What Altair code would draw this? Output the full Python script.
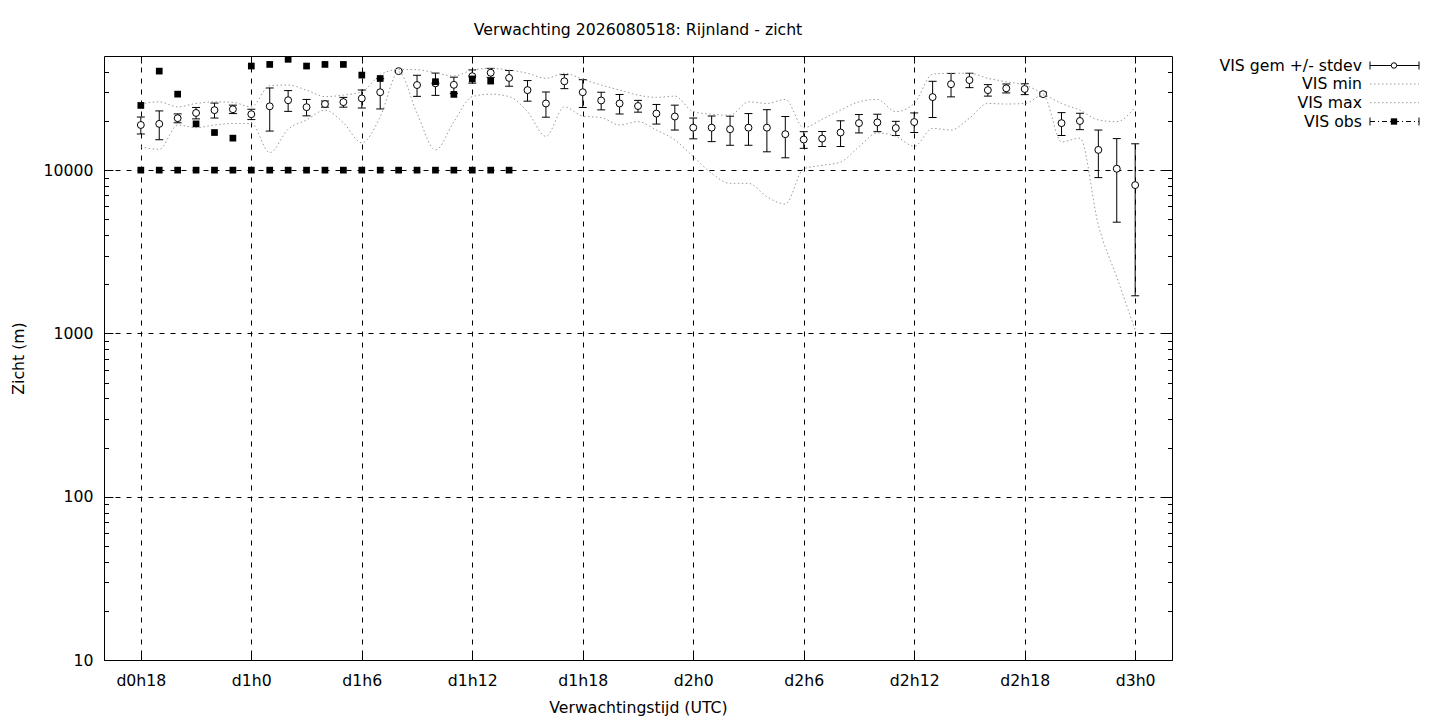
import altair as alt
import pandas as pd

# ---------------- data ----------------
hours = list(range(18, 73))

vis_mean = [18900, 19200, 20800, 22400, 23300, 23600, 22000, 24600, 26800, 24300,
            25400, 26100, 27500, 30000, 40400, 33200, 34000, 33300, 37600, 39500,
            36700, 30900, 25600, 35000, 30000, 26700, 25600, 24700, 22200, 21300,
            18200, 18200, 17800, 18200, 18200, 16600, 15400, 15600, 17000, 19400,
            19600, 18100, 19700, 28000, 33600, 35600, 30900, 31700, 31400, 29200,
            19400, 20000, 13300, 10200, 8100]

vis_sd = [2250, 3850, 1300, 1800, 2450, 1400, 1600, 7250, 3900, 2800,
          1100, 1800, 3500, 6300, 450, 4900, 5300, 3800, 3500, 2500,
          4050, 4450, 4500, 3450, 5800, 3300, 3500, 2050, 3050, 3700,
          2650, 3250, 3600, 4000, 5250, 4700, 1800, 1650, 3050, 2500,
          2400, 1800, 2700, 7000, 5500, 3600, 2500, 2000, 2400, 800,
          3100, 2300, 4300, 5400, 6400]

vis_min = [13900, 13400, 18900, 18200, 18900, 19300, 19300, 12800, 17800, 20300,
           23300, 19500, 14700, 21200, 40000, 22300, 13300, 19800, 28200, 29200,
           28200, 22800, 16100, 24400, 21400, 21000, 18900, 19800, 17600, 15300,
           12100, 9560, 8300, 8300, 6870, 6200, 10200, 10700, 11200, 13900,
           16900, 16100, 14000, 18000, 17600, 20800, 25600, 25400, 25600, 28800,
           14900, 15700, 4610, 2210, 1050]

vis_max = [25400, 26200, 24400, 25600, 26200, 26000, 24400, 32900, 33200, 30900,
           28200, 28800, 30200, 38200, 41400, 41200, 39500, 37700, 41000, 42000,
           41000, 39200, 36500, 39200, 36000, 33200, 30900, 28800, 27900, 28400,
           22800, 22000, 21700, 26200, 25600, 27100, 18200, 20500, 23300, 26200,
           27100, 22800, 25600, 38700, 39200, 39200, 36500, 34800, 33200, 29400,
           25600, 23300, 20300, 19800, 24400]

obs_hours = list(range(18, 39))
obs_a = [24900, 40400, 29200, 19200, 17000, 15700, 43400, 44400, 47700, 43400,
         44400, 44400, 38200, 36400, None, None, 34800, 29100, 36200, 35100, None]
obs_b = [10000, 10000, 10000, 10000, 10000, 10000, 10000, 10000, 10000, 10000,
         10000, 10000, 10000, 10000, 10000, 10000, 10000, 10000, 10000, 10000, 10000]

x_ticks = [18, 24, 30, 36, 42, 48, 54, 60, 66, 72]
y_major = [10, 100, 1000, 10000]
y_minor = [20, 30, 40, 50, 60, 70, 80, 90,
           200, 300, 400, 500, 600, 700, 800, 900,
           2000, 3000, 4000, 5000, 6000, 7000, 8000, 9000,
           20000, 30000, 40000]

title_text = "Verwachting 2026080518: Rijnland - zicht"
x_title = "Verwachtingstijd (UTC)"
y_title = "Zicht (m)"
legend_labels = ["VIS gem +/- stdev", "VIS min", "VIS max", "VIS obs"]

# ---------------- tables ----------------
df = pd.DataFrame({"h": hours, "mean": vis_mean, "sd": vis_sd,
                   "vmin": vis_min, "vmax": vis_max})
df["lo"] = df["mean"] - df["sd"]
df["hi"] = df["mean"] + df["sd"]

obs_rows = []
for h, a, b in zip(obs_hours, obs_a, obs_b):
    if a is not None:
        obs_rows.append({"h": h, "obs": a})
    if b is not None:
        obs_rows.append({"h": h, "obs": b})
obs_df = pd.DataFrame(obs_rows)

# ---------------- styling ----------------
FONT = "DejaVu Sans"
FS = 15.7
W, H = 1068, 604
GRAY = "#9a9a9a"
DOT = [1.5, 2.5]
GRID_DASH = [5, 6]

xs = alt.Scale(domain=[16, 74], nice=False, zero=False)
ys = alt.Scale(type="log", domain=[10, 50000], nice=False)

label_expr = "'d' + floor(datum.value/24) + 'h' + (datum.value % 24)"
major_test = "indexof([10,100,1000,10000], datum.value) >= 0"
ytick_size = {"condition": {"test": major_test, "value": 9}, "value": 4.5}

TXT = dict(labelFont=FONT, labelFontSize=FS, labelColor="black",
           titleFont=FONT, titleFontSize=FS, titleFontWeight="normal",
           titleColor="black")

base = alt.Chart(df)

# main axes (labels, grid, titles) on the min line layer
min_line = base.mark_line(color=GRAY, strokeWidth=1, strokeDash=DOT,
                          interpolate="monotone").encode(
    x=alt.X("h:Q", scale=xs, axis=alt.Axis(
        orient="bottom", values=x_ticks, labelExpr=label_expr, title=x_title,
        ticks=False, domain=False, grid=True, gridColor="black",
        gridDash=GRID_DASH, gridWidth=1, gridOpacity=1, labelPadding=13,
        labelFlush=False, labelOverlap=False,
        titleX=W / 2, titleY=47, titleBaseline="middle", titleAlign="center",
        **TXT)),
    y=alt.Y("vmin:Q", scale=ys, axis=alt.Axis(
        orient="left", values=y_major, format="d", title=y_title,
        ticks=False, domain=False, grid=True, gridColor="black",
        gridDash=GRID_DASH, gridWidth=1, gridOpacity=1, labelPadding=11,
        labelFlush=False, labelOverlap=False,
        titleX=-86, titleY=H / 2, titleBaseline="middle", titleAlign="center",
        **TXT)),
)

# max line carries the inward ticks of the top border and the right border
max_line = base.mark_line(color=GRAY, strokeWidth=1, strokeDash=DOT,
                          interpolate="monotone").encode(
    x=alt.X("h:Q", scale=xs, axis=alt.Axis(
        orient="bottom", offset=-H, values=x_ticks, labels=False, tickSize=7,
        tickColor="black", tickWidth=1, domain=False, grid=False, title=None)),
    y=alt.Y("vmax:Q", scale=ys, axis=alt.Axis(
        orient="left", offset=-W, values=y_major + y_minor, labels=False,
        tickSize=ytick_size, tickColor="black", tickWidth=1, domain=False,
        grid=False, title=None)),
)

# error bars carry the inward ticks of the bottom border and the left border
err = base.mark_rule(color="black", strokeWidth=1).encode(
    x=alt.X("h:Q", scale=xs, axis=alt.Axis(
        orient="top", offset=-H, values=x_ticks, labels=False, tickSize=7,
        tickColor="black", tickWidth=1, domain=False, grid=False, title=None)),
    y=alt.Y("lo:Q", scale=ys, axis=alt.Axis(
        orient="right", offset=-W, values=y_major + y_minor, labels=False,
        tickSize=ytick_size, tickColor="black", tickWidth=1, domain=False,
        grid=False, title=None)),
    y2="hi:Q",
)

caps = base.transform_fold(["lo", "hi"], as_=["k", "v"]).mark_tick(
    orient="horizontal", size=8, thickness=1, color="black", opacity=1
).encode(
    x=alt.X("h:Q", scale=xs, axis=None),
    y=alt.Y("v:Q", scale=ys, axis=None),
)

means = base.mark_point(shape="circle", size=48, filled=True, fill="white",
                        stroke="black", strokeWidth=1, opacity=1).encode(
    x=alt.X("h:Q", scale=xs, axis=None),
    y=alt.Y("mean:Q", scale=ys, axis=None),
)

obs = alt.Chart(obs_df).mark_square(size=45, color="black", opacity=1).encode(
    x=alt.X("h:Q", scale=xs, axis=None),
    y=alt.Y("obs:Q", scale=ys, axis=None),
)

# ---------------- legend (gnuplot style: label left, sample right) ----------------
one = alt.Data(values=[{"k": 0}])
LX_TEXT, LX0, LX1, LXC = 1258, 1266, 1315, 1290
ROWS = [9.5, 28, 46.7, 65.5]

leg = []
for lab, ry in zip(legend_labels, ROWS):
    leg.append(alt.Chart(one).mark_text(align="right", baseline="middle",
                                        font=FONT, fontSize=FS, color="black").encode(
        x=alt.value(LX_TEXT), y=alt.value(ry), text=alt.value(lab)))

# row 1: mean +/- stdev
leg.append(alt.Chart(one).mark_rule(color="black", strokeWidth=1).encode(
    x=alt.value(LX0), x2=alt.value(LX1), y=alt.value(ROWS[0])))
for xv in (LX0, LX1):
    leg.append(alt.Chart(one).mark_rule(color="black", strokeWidth=1).encode(
        x=alt.value(xv), y=alt.value(ROWS[0] - 4), y2=alt.value(ROWS[0] + 4)))
leg.append(alt.Chart(one).mark_point(shape="circle", size=30, filled=True,
                                     fill="white", stroke="black", strokeWidth=1,
                                     opacity=1).encode(
    x=alt.value(LXC), y=alt.value(ROWS[0])))
# rows 2, 3: min / max
for ry in (ROWS[1], ROWS[2]):
    leg.append(alt.Chart(one).mark_rule(color=GRAY, strokeWidth=1,
                                        strokeDash=DOT).encode(
        x=alt.value(LX0), x2=alt.value(LX1), y=alt.value(ry)))
# row 4: obs
leg.append(alt.Chart(one).mark_rule(color="black", strokeWidth=1,
                                    strokeDash=[5, 3, 1, 3]).encode(
    x=alt.value(LX0), x2=alt.value(LX1), y=alt.value(ROWS[3])))
for xv in (LX0, LX1):
    leg.append(alt.Chart(one).mark_rule(color="black", strokeWidth=1).encode(
        x=alt.value(xv), y=alt.value(ROWS[3] - 4), y2=alt.value(ROWS[3] + 4)))
leg.append(alt.Chart(one).mark_square(size=40, color="black", opacity=1).encode(
    x=alt.value(LXC), y=alt.value(ROWS[3])))

chart = alt.layer(err, caps, means, min_line, max_line, obs, *leg).resolve_scale(
    x="shared", y="shared"
).resolve_axis(
    x="independent", y="independent"
).properties(
    width=W, height=H,
    title=alt.Title(title_text, font=FONT, fontSize=FS, fontWeight="normal",
                    color="black", anchor="middle", offset=2, baseline="bottom"),
    autosize=alt.AutoSizeParams(type="none"),
    padding={"left": 96, "top": 48, "right": 260, "bottom": 56},
).configure_view(
    stroke="black", strokeWidth=1
)

chart.save("out.html", embed_options={"renderer": "svg", "actions": False})
